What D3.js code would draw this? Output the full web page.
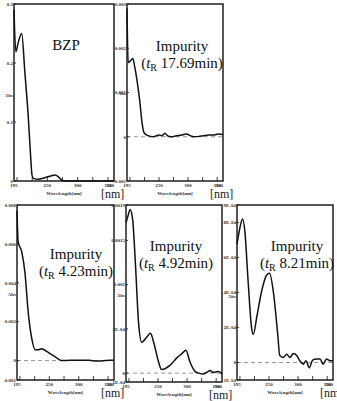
<!DOCTYPE html>
<html>
<head>
<meta charset="utf-8">
<script src="https://cdn.jsdelivr.net/npm/d3@7"></script>
<style>
  body { margin: 0; background: #fff; }
  svg { display: block; }
</style>
</head>
<body>
<svg></svg>
<script>
// wavelength ticks shared by all panels
const xTickLabels = [195, 250, 300, 350, 360];
const xMinorTicks = [200, 225, 250, 275, 300, 325, 350];

// BZP
const bzpWl  = [195, 198, 202, 207.7, 213, 218.6, 222.5, 224.7, 227, 235, 246, 257, 262.6, 268, 273.7, 280, 300, 330, 360];
const bzpAbs = [0.29, 0.219, 0.235, 0.25, 0.183, 0.108, 0.041, 0.01, 0.0045, 0.003, 0.0056, 0.009, 0.01, 0.0073, 0.0017, 0, 0, 0, 0];
const bzpTicks = ['0.3', '0.2', '0.1', '0'];
const bzpTickVals = [0.3, 0.2, 0.1, 0];

// impurity tR 17.69 min
const imp1769Wl  = [195, 197, 200, 205, 208, 213, 217, 221, 224, 230, 240, 250, 255, 260, 265, 270, 280, 290, 297, 305, 310, 320, 326, 335, 345, 352, 360];
const imp1769Abs = [0.0029, 0.00168, 0.0017, 0.00177, 0.0016, 0.0012, 0.0008, 0.0003, 0.0001, 0.00003, 0, 0.00004, 0.00002, 0.00008, 0.00002, 0, 0.00002, 0.00004, 0.00006, 0.00002, 0, 0.00001, 0.00002, 0.00004, 0.00004, 0.00006, 0.00005];
const imp1769Ticks = ['0.003', '0.002', '0.001', '0', '-0.001'];
const imp1769TickVals = [0.003, 0.002, 0.001, 0, -0.001];

// impurity tR 4.23 min
const imp423Wl  = [195, 197, 203, 208.6, 214, 220, 225.6, 231, 237, 245.5, 254, 262.5, 271, 285, 303, 318, 332, 346, 360];
const imp423Abs = [0.0077, 0.0061, 0.0056, 0.0045, 0.0025, 0.00115, 0.00056, 0.00055, 0.00061, 0.00047, 0.0003, 0.00014, 0, 0.00001, 0.00002, 0.00001, -0.00002, 0, 0.00002];
const imp423Ticks = ['0.008', '0.006', '0.004', '0.002', '0', '-0.001'];
const imp423TickVals = [0.008, 0.006, 0.004, 0.002, 0, -0.001];

// impurity tR 4.92 min
const imp492Wl  = [195, 199, 202, 206.5, 211, 216.5, 222, 231, 237, 242.5, 251, 256, 271, 282, 291, 298, 305, 313.6, 320, 328, 334, 339.5, 344, 348, 354, 360];
const imp492Abs = [0.0017, 0.00179, 0.00185, 0.00173, 0.00126, 0.00058, 0.00035, 0.00041, 0.00045, 0.00035, 0.000125, 0.00004, 0.00009, 0.00017, 0.00022, 0.00026, 0.000125, 0.00002, 0, -0.00001, 0.00001, 0.00003, 0.00001, 0.00001, 0.00002, -0.00001];
const imp492Ticks = ['0.0019', '0.0015', '0.001', '5E-04', '0', '-1E-04'];
const imp492TickVals = [0.0019, 0.0015, 0.001, 0.0005, 0, -0.0001];

// impurity tR 8.21 min
const imp821Wl  = [195, 200, 204.5, 208.5, 214, 220, 223, 229, 237.5, 246, 251, 258, 265, 268.5, 274.6, 280.4, 286, 291.8, 297.6, 303, 309, 313.5, 319.3, 325, 332, 337.7, 343, 349, 354.8, 360];
const imp821Abs = [0.000676, 0.00077, 0.00082, 0.00075, 0.00047, 0.0002, 0.00016, 0.00026, 0.00041, 0.0005, 0.00051, 0.00039, 0.00016, 0.00004, 0.000029, 0.000047, 0.000029, 0.000051, 0.00004, 0.00001, -0.00001, 0.00001, -0.00003, 0.000014, 0.00002, 0.00002, -0.00001, 0.00002, 0.00001, 0.00001];
const imp821Ticks = ['9E-04', '8E-04', '6E-04', '4E-04', '2E-04', '0', '-1E-04'];
const imp821TickVals = [0.0009, 0.0008, 0.0006, 0.0004, 0.0002, 0, -0.0001];

const svg = d3.select('svg').attr('width', 337).attr('height', 401);

const panels = [
  {wl: bzpWl, abs: bzpAbs, ticks: bzpTicks, tickVals: bzpTickVals, domain: [0, 0.3],
   box: [14, 114, 4, 181], title: 'BZP', tR: null, titleX: 66, titleY: 50, absY: 97, zero: false},
  {wl: imp1769Wl, abs: imp1769Abs, ticks: imp1769Ticks, tickVals: imp1769TickVals, domain: [-0.001, 0.003],
   box: [127, 223, 4, 181], title: 'Impurity', tR: '17.69min', titleX: 182, titleY: 51, absY: 95, zero: true},
  {wl: imp423Wl, abs: imp423Abs, ticks: imp423Ticks, tickVals: imp423TickVals, domain: [-0.001, 0.008],
   box: [17, 114, 205, 380], title: 'Impurity', tR: '4.23min', titleX: 76, titleY: 259, absY: 296, zero: true},
  {wl: imp492Wl, abs: imp492Abs, ticks: imp492Ticks, tickVals: imp492TickVals, domain: [-0.0001, 0.0019],
   box: [126, 222, 205, 382], title: 'Impurity', tR: '4.92min', titleX: 176, titleY: 251, absY: 297, zero: true},
  {wl: imp821Wl, abs: imp821Abs, ticks: imp821Ticks, tickVals: imp821TickVals, domain: [-0.0001, 0.0009],
   box: [237, 333, 205, 380], title: 'Impurity', tR: '8.21min', titleX: 297, titleY: 251, absY: 298, zero: true}
];

panels.forEach(p => {
  const [x0, x1, y0, y1] = p.box;
  const x = d3.scaleLinear().domain([195, 360]).range([x0, x1]);
  const y = d3.scaleLinear().domain(p.domain).range([y1, y0]);
  const g = svg.append('g').attr('font-family', 'Liberation Serif');

  if (p.zero) {
    g.append('line')
      .attr('x1', x0).attr('x2', x1)
      .attr('y1', y(0)).attr('y2', y(0))
      .attr('stroke', '#999').attr('stroke-width', 1)
      .attr('stroke-dasharray', '4,3');
  }

  // inward ticks on the wavelength axis
  g.selectAll('.xt').data(xMinorTicks).join('line')
    .attr('x1', d => x(d)).attr('x2', d => x(d))
    .attr('y1', y1).attr('y2', y1 - 4)
    .attr('stroke', '#111').attr('stroke-width', 0.8);

  // small ticks on absorbance axis
  g.selectAll('.yt').data(p.tickVals).join('line')
    .attr('x1', x0).attr('x2', x0 + 2)
    .attr('y1', d => y(d)).attr('y2', d => y(d))
    .attr('stroke', '#111').attr('stroke-width', 0.8);

  const line = d3.line()
    .x(d => x(d[0]))
    .y(d => y(d[1]))
    .curve(d3.curveMonotoneX);

  g.append('path')
    .attr('d', line(d3.zip(p.wl, p.abs)))
    .attr('fill', 'none')
    .attr('stroke', '#111')
    .attr('stroke-width', 1.5);

  g.append('rect')
    .attr('x', x0).attr('y', y0)
    .attr('width', x1 - x0).attr('height', y1 - y0)
    .attr('fill', 'none').attr('stroke', '#111').attr('stroke-width', 1.4);

  const small = sel => sel
    .attr('font-size', 5)
    .attr('font-weight', 'bold')
    .attr('fill', '#333');

  g.selectAll('.yl').data(p.tickVals).join('text')
    .call(small)
    .attr('x', x0 - 1)
    .attr('y', d => y(d) + 1.8)
    .attr('text-anchor', 'end')
    .text((d, i) => p.ticks[i]);

  g.append('text')
    .call(small)
    .attr('x', x0 - 1).attr('y', p.absY)
    .attr('text-anchor', 'end')
    .text('Abs');

  g.selectAll('.xl').data(xTickLabels).join('text')
    .call(small)
    .attr('x', d => x(d))
    .attr('y', y1 + 6)
    .attr('text-anchor', (d, i) => i === xTickLabels.length - 1 ? 'end' : 'middle')
    .text(d => d);

  g.append('text')
    .call(small)
    .attr('x', (x0 + x1) / 2).attr('y', y1 + 14)
    .attr('text-anchor', 'middle')
    .text('Wavelength[nm]');

  g.append('text')
    .attr('font-size', 12)
    .attr('fill', '#222')
    .attr('x', x1 - 13).attr('y', y1 + 17)
    .text('[nm]');

  g.append('text')
    .attr('font-size', 15)
    .attr('fill', '#111')
    .attr('x', p.titleX).attr('y', p.titleY)
    .attr('text-anchor', 'middle')
    .text(p.title);

  if (p.tR) {
    const s = g.append('text')
      .attr('font-size', 15)
      .attr('fill', '#111')
      .attr('x', p.titleX).attr('y', p.titleY + 17)
      .attr('text-anchor', 'middle');
    s.append('tspan').text('(');
    s.append('tspan').attr('font-style', 'italic').text('t');
    s.append('tspan').attr('font-size', 10).attr('dy', 3).text('R');
    s.append('tspan').attr('dy', -3).text('\u00a0' + p.tR + ')');
  }
});
</script>
</body>
</html>
